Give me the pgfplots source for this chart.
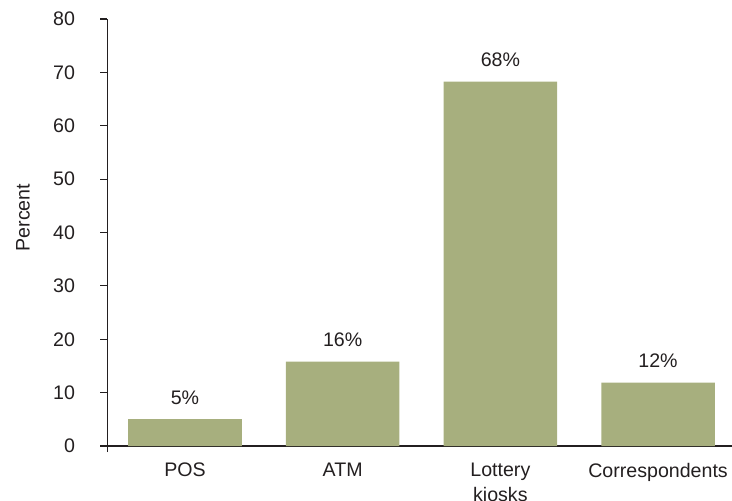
\documentclass[border=0pt]{standalone}
\usepackage{fontspec}
\setmainfont{Liberation Sans}
\usepackage{pgfplots}
\pgfplotsset{compat=1.18}
\definecolor{barc}{HTML}{A7AF7E}
\definecolor{txt}{HTML}{231F20}
\begin{document}
\begin{tikzpicture}
\begin{axis}[
  name=ax, at={(0,0)}, anchor=south west,
  scale only axis, width=312.25pt, height=213.5pt,
  xmin=-0.4915, xmax=3.469, ymin=0, ymax=80,
  axis x line*=bottom, axis y line*=left,
  axis line style={txt, line width=0.6pt},
  y axis line style={shorten <=-3pt},
  ybar, bar width=0.72,
  xtick=data,
  xticklabels={POS, ATM, {Lottery\\kiosks}, Correspondents},
  xtick style={draw=none},
  ytick={0,10,...,80},
  ytick style={txt, line width=0.6pt},
  tick align=outside, major tick length=3.5pt,
  /pgf/number format/assume math mode=true,
  tick label style={font=\fontsize{9.8}{12.5}\selectfont, text=txt},
  xticklabel style={align=center, yshift=-1.6pt},
  yticklabel style={anchor=east, xshift=-9.25pt},
  ylabel={Percent},
  every axis y label/.style={at={(axis description cs:-0.1353,0.535)}, rotate=90, anchor=center, font=\fontsize{9.8}{12.5}\selectfont, text=txt},
  point meta=explicit symbolic,
  nodes near coords,
  every node near coord/.append style={font=\fontsize{9.8}{12.5}\selectfont, text=txt, anchor=south, yshift=3.8pt},
  clip=false,
]
\addplot[fill=barc, draw=none] coordinates {
  (0,5.06) [5\%]
  (1,15.8) [16\%]
  (2,68.25) [68\%]
  (3,11.86) [12\%]
};
\end{axis}
\pgfresetboundingbox
\useasboundingbox ([xshift=-53.75pt,yshift=-27pt]ax.south west) rectangle ([xshift=312.25pt,yshift=223pt]ax.south west);
\end{tikzpicture}
\end{document}
